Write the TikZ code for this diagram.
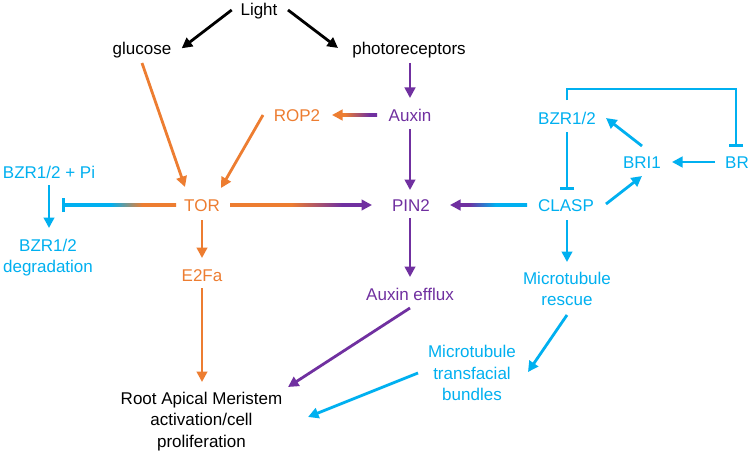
\documentclass[tikz,border=0pt]{standalone}
\usepackage{fontspec}
\setmainfont{Liberation Sans}
\usetikzlibrary{arrows.meta,calc}
\definecolor{cor}{RGB}{237,125,49}
\definecolor{cbl}{RGB}{0,176,240}
\definecolor{cpu}{RGB}{112,48,160}
\pgfdeclarehorizontalshading{shOP}{100bp}{color(0bp)=(cor); color(48bp)=(cor); color(67bp)=(cpu); color(100bp)=(cpu)}
\pgfdeclarehorizontalshading{shPB}{100bp}{color(0bp)=(cpu); color(32bp)=(cpu); color(52bp)=(cbl); color(100bp)=(cbl)}
\pgfdeclarehorizontalshading{shOPr}{100bp}{color(0bp)=(cor); color(30bp)=(cor); color(65bp)=(cpu); color(100bp)=(cpu)}
\pgfdeclarehorizontalshading{shBO}{100bp}{color(0bp)=(cbl); color(46bp)=(cbl); color(60bp)=(cor); color(100bp)=(cor)}
\tikzset{
  lbl/.style={inner sep=0pt, font=\fontsize{17pt}{21.5pt}\selectfont, align=center},
  one/.style={inner sep=0pt, font=\fontsize{17pt}{21.5pt}\selectfont, text height=12.2pt, text depth=3.6pt},
  con/.style={line width=2.8pt, -{Triangle[length=10.5pt,width=10.5pt]}},
  inhib/.style={line width=2.8pt, -{Bar[width=14pt]}},
}
\begin{document}
\begin{tikzpicture}[x=1pt,y=-1pt]
\fill[white] (0,0) rectangle (750,452);
% nodes
\node[one] (light) at (259,10.8) {Light};
\node[one] (glucose) at (142,49.8) {glucose};
\node[one] (photo) at (409,49.8) {photoreceptors};
\node[one,text=cor] (rop2) at (297,116.8) {ROP2};
\node[one,text=cpu] (auxin) at (410,116.8) {Auxin};
\node[one,text=cbl] (bzrtop) at (567,119.8) {BZR1/2};
\node[one,text=cbl] (bri1) at (642,163.8) {BRI1};
\node[one,text=cbl] (br) at (737,163.8) {BR};
\node[one,text=cbl] (bzrpi) at (49,173.8) {BZR1/2 + Pi};
\node[one,text=cor] (tor) at (202,206.8) {TOR};
\node[one,text=cpu] (pin2) at (411,206.8) {PIN2};
\node[one,text=cbl] (clasp) at (566,206.8) {CLASP};
\node[lbl,text=cbl] (bzrdeg) at (48,257.5) {BZR1/2\\degradation};
\node[one,text=cor] (e2fa) at (202,276.8) {E2Fa};
\node[one,text=cpu] (efflux) at (410,295.8) {Auxin efflux};
\node[lbl,text=cbl] (rescue) at (567,288.7) {Microtubule\\rescue};
\node[lbl,text=cbl] (bundles) at (472,373.4) {Microtubule\\transfacial\\bundles};
\node[lbl] (ram) at (201.5,421.2) {Root Apical Meristem\\activation/cell\\proliferation};
\coordinate (inhpt) at ($(bzrpi.center |- tor.center)+(13,-1.8)$);
% black
\draw[con,black] ($(light)+(-27.3,-0.8)$) -- ($(glucose)+(39.7,-1.5)$);
\draw[con,black] ($(light)+(29,-0.8)$) -- ($(photo)+(-71,-1.8)$);
% purple
\draw[con,cpu] ($(photo)+(1,13.2)$) -- ($(auxin)+(0,-18.8)$);
\draw[con,cpu] ($(auxin)+(0,12.2)$) -- ($(pin2)+(-1,-16.8)$);
\draw[con,cpu] ($(pin2)+(-1,11.2)$) -- ($(efflux)+(0,-18.8)$);
\draw[con,cpu] ($(efflux)+(0,12.2)$) -- ($(ram)+(86.5,-34.2)$);
% orange
\draw[con,cor] ($(glucose)+(0,13.2)$) -- ($(tor)+(-17,-19.8)$);
\draw[con,cor] ($(rop2)+(-34,-1.8)$) -- ($(tor)+(19,-18.8)$);
\draw[con,cor] ($(tor)+(0,13.2)$) -- ($(e2fa)+(0,-18.8)$);
\draw[con,cor] ($(e2fa)+(0,11.2)$) -- ($(ram)+(0.5,-39.2)$);
% gradient connectors
\draw[con,cor] ($(auxin)+(-33,-1.8)$) -- ($(rop2)+(35,-1.8)$);
\shade[shading=shOPr] ($(rop2)+(44,-3.2)$) rectangle ($(auxin)+(-33,-0.4)$);
\draw[con,cpu] ($(tor)+(28,-1.8)$) -- ($(pin2)+(-39,-1.8)$);
\shade[shading=shOP] ($(tor)+(28,-3.2)$) rectangle ($(pin2)+(-48,-0.4)$);
\draw[con,cpu] ($(clasp)+(-39,-1.8)$) -- ($(pin2)+(39,-1.8)$);
\shade[shading=shPB] ($(pin2)+(48,-3.2)$) rectangle ($(clasp)+(-39,-0.4)$);
\draw[inhib,cbl] ($(tor)+(-26,-1.8)$) -- (inhpt);
\shade[shading=shBO] ($(inhpt)+(1.4,-1.4)$) rectangle ($(tor)+(-26,-0.4)$);
% blue
\draw[con,cbl] ($(bzrpi)+(0,11.2)$) -- ($(bzrdeg)+(1,-29.5)$);
\draw[con,cbl] ($(clasp)+(1,13.2)$) -- ($(rescue)+(0,-26.7)$);
\draw[con,cbl] ($(rescue)+(0,26.3)$) -- ($(bundles)+(56,-1.4)$);
\draw[con,cbl] ($(bundles)+(-54,-0.4)$) -- ($(ram)+(106.5,-4.2)$);
\draw[inhib,cbl] ($(bzrtop)+(0,12.2)$) -- ($(clasp)+(1,-16.8)$);
\draw[con,cbl] ($(bri1)+(0,-17.8)$) -- ($(bzrtop)+(39,-1.8)$);
\draw[con,cbl] ($(br)+(-22,-1.8)$) -- ($(bri1)+(30,-1.8)$);
\draw[con,cbl] ($(clasp)+(40,-2.8)$) -- ($(bri1)+(0,12.2)$);
\draw[inhib,cbl] ($(bzrtop)+(0,-19.8)$) -- ++(0,-11) -| ($(br)+(-1,-16.8)$);
\end{tikzpicture}
\end{document}
